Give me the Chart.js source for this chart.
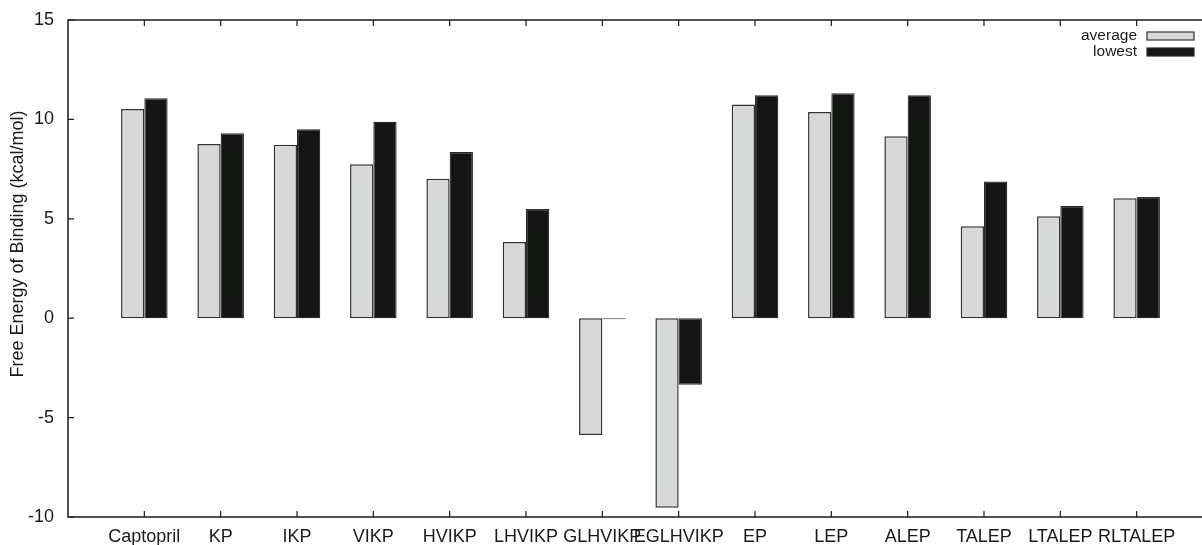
<!DOCTYPE html>
<html lang="en">
<head>
<meta charset="UTF-8">
<title>Free Energy of Binding</title>
<script src="https://cdn.jsdelivr.net/npm/chart.js@4.4.0/dist/chart.umd.min.js"></script>
<style>
  body { margin: 0; background: #fff; }
</style>
</head>
<body>
<canvas id="chart" width="1202" height="545"></canvas>
<script>
const peptides = ['Captopril', 'KP', 'IKP', 'VIKP', 'HVIKP', 'LHVIKP', 'GLHVIKP', 'EGLHVIKP',
                  'EP', 'LEP', 'ALEP', 'TALEP', 'LTALEP', 'RLTALEP'];
const average = [10.52, 8.76, 8.73, 7.74, 7.02, 3.83, -5.88, -9.53, 10.75, 10.37, 9.15, 4.62, 5.13, 6.03];
const lowest  = [11.06, 9.30, 9.51, 9.88, 8.36, 5.49, -0.05, -3.35, 11.22, 11.31, 11.22, 6.87, 5.64, 6.10];
const yTicks = [-10, -5, 0, 5, 10, 15];
const yTitle = 'Free Energy of Binding (kcal/mol)';

const FONT = '"Liberation Sans", Arial, Helvetica, sans-serif';
const INK = '#1a1a1a';

// gnuplot-like frame: inward ticks, mirrored on top, key with box on the right
const framePlugin = {
  id: 'frame',
  afterDraw(chart) {
    const { ctx, chartArea: a, scales: { x, y } } = chart;
    ctx.save();
    ctx.strokeStyle = INK;
    ctx.lineWidth = 1.5;
    ctx.beginPath();
    ctx.moveTo(a.right + 2, a.top); ctx.lineTo(a.left, a.top);
    ctx.lineTo(a.left, a.bottom); ctx.lineTo(a.right + 2, a.bottom);
    ctx.stroke();

    ctx.lineWidth = 1.2;
    ctx.beginPath();
    x.ticks.forEach(t => {
      const px = x.getPixelForValue(t.value);
      ctx.moveTo(px, a.bottom); ctx.lineTo(px, a.bottom - 6);
      ctx.moveTo(px, a.top); ctx.lineTo(px, a.top + 6);
    });
    y.ticks.forEach(t => {
      const py = y.getPixelForValue(t.value);
      ctx.moveTo(a.left, py); ctx.lineTo(a.left + 6, py);
    });
    ctx.stroke();

    // y title
    ctx.fillStyle = INK;
    ctx.font = '18px ' + FONT;
    ctx.textAlign = 'center';
    ctx.textBaseline = 'middle';
    ctx.translate(18, 244);
    ctx.rotate(-Math.PI / 2);
    ctx.fillText(yTitle, 0, 0);
    ctx.restore();

    // key
    ctx.save();
    ctx.font = '15.5px ' + FONT;
    ctx.textAlign = 'right';
    ctx.textBaseline = 'middle';
    chart.data.datasets.forEach((ds, i) => {
      const cy = 36 + i * 16;
      ctx.fillStyle = INK;
      ctx.fillText(ds.label, 1137, cy);
      ctx.fillStyle = ds.backgroundColor;
      ctx.fillRect(1147, cy - 4, 47, 8);
      ctx.strokeStyle = ds.borderColor;
      ctx.lineWidth = 1.2;
      ctx.strokeRect(1147, cy - 4, 47, 8);
    });
    ctx.restore();
  }
};

new Chart(document.getElementById('chart'), {
  type: 'bar',
  data: {
    datasets: [
      {
        label: 'average',
        data: average.map((v, i) => ({ x: i + 1, y: v })),
        backgroundColor: '#d7d9d8',
        borderColor: '#333333',
        borderWidth: 1.5,
        borderSkipped: false
      },
      {
        label: 'lowest',
        data: lowest.map((v, i) => ({ x: i + 1, y: v })),
        backgroundColor: '#141614',
        borderColor: '#2a2a2a',
        borderWidth: 1.2,
        borderSkipped: false
      }
    ]
  },
  options: {
    responsive: false,
    animation: false,
    events: [],
    layout: { padding: { top: 20, right: 0, left: 0, bottom: 0 } },
    categoryPercentage: 0.61,
    barPercentage: 1.0,
    plugins: {
      legend: { display: false },
      tooltip: { enabled: false }
    },
    scales: {
      x: {
        type: 'linear',
        offset: false,
        min: 0,
        max: 14.856,
        grid: { display: false, offset: false },
        border: { display: false },
        afterBuildTicks: s => { s.ticks = peptides.map((p, i) => ({ value: i + 1 })); },
        afterFit: s => { s.height = 28; },
        ticks: {
          autoSkip: false,
          maxRotation: 0,
          padding: 1,
          color: INK,
          font: { family: FONT, size: 18 },
          callback: v => peptides[v - 1]
        }
      },
      y: {
        min: -10,
        max: 15,
        grid: { display: false },
        border: { display: false },
        afterBuildTicks: s => { s.ticks = yTicks.map(v => ({ value: v })); },
        afterFit: s => { s.width = 68; },
        ticks: {
          padding: 6,
          color: INK,
          font: { family: FONT, size: 18 }
        }
      }
    }
  },
  plugins: [framePlugin]
});
</script>
</body>
</html>
